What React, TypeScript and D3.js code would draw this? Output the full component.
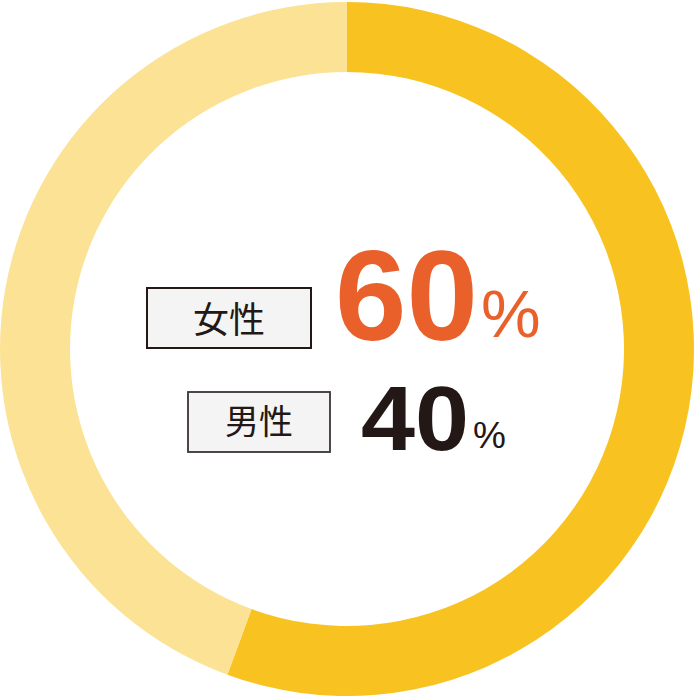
import React from "react";
import * as d3 from "d3";

const categories = ["女性", "男性"];
// arc shares as drawn in the picture (the boundary sits at ~200°)
const arcValues = [55.6, 44.4];
const labelValues = ["60", "40"];
const sliceColors = ["#F8C320", "#FCE294"];

export default function App() {
  const W = 700;
  const H = 700;
  const cx = 347;
  const cy = 349;
  const outerR = 347;
  const innerR = 277;

  const pie = d3
    .pie<number>()
    .sort(null)
    .value((d) => d)
    .startAngle(0)
    .endAngle(2 * Math.PI);
  const arcs = pie(arcValues);
  const arcGen = d3.arc<d3.PieArcDatum<number>>().innerRadius(innerR).outerRadius(outerR);

  const font = "'Noto Sans CJK JP', 'Noto Sans', sans-serif";
  const numFont = "'Liberation Sans', Arial, sans-serif";

  return (
    <svg
      width={W}
      height={H}
      viewBox={`0 0 ${W} ${H}`}
      style={{ position: "absolute", left: 0, top: 0, background: "#fff" }}
    >
      <g transform={`translate(${cx},${cy})`}>
        {arcs.map((a, i) => (
          <path key={i} d={arcGen(a) || ""} fill={sliceColors[i]} />
        ))}
      </g>

      {/* 女性 label */}
      <rect x={147} y={288} width={164} height={60} fill="#F4F4F4" stroke="#231815" strokeWidth={2} />
      <text x={229} y={333} textAnchor="middle" fontFamily={font} fontSize={36} fill="#231815">
        {categories[0]}
      </text>
      <text x={335} y={340} fontFamily={numFont} fontWeight="bold" fontSize={128} fill="#E9602A" textLength={143} lengthAdjust="spacingAndGlyphs">
        {labelValues[0]}
      </text>
      <text x={481} y={337} fontFamily={numFont} fontSize={67} fill="#E9602A">
        %
      </text>

      {/* 男性 label */}
      <rect x={188} y={392} width={142} height={60} fill="#F4F4F4" stroke="#3a3432" strokeWidth={1.8} />
      <text x={259} y={434} textAnchor="middle" fontFamily={font} fontSize={34} fill="#231815">
        {categories[1]}
      </text>
      <text x={361} y={450} fontFamily={numFont} fontWeight="bold" fontSize={90} fill="#231815" textLength={108} lengthAdjust="spacingAndGlyphs">
        {labelValues[1]}
      </text>
      <text x={473} y={448} fontFamily={numFont} fontSize={37} fill="#231815">
        %
      </text>
    </svg>
  );
}
